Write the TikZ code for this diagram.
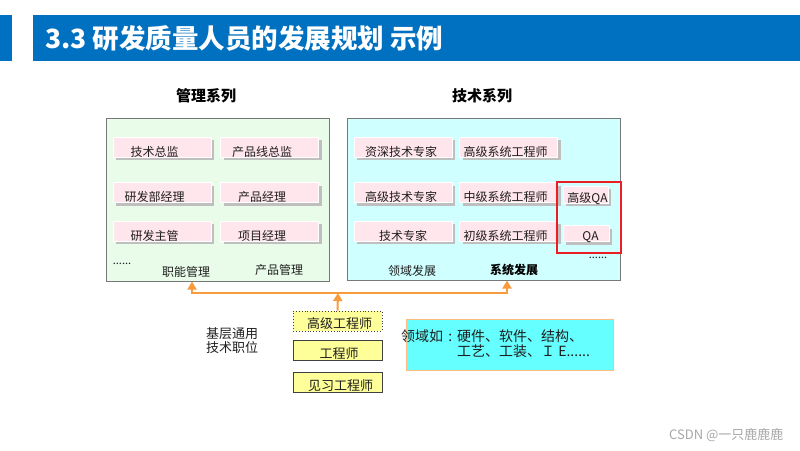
\documentclass[tikz,border=0pt]{standalone}
\usepackage{fontspec}
\setmainfont{Noto Sans CJK SC}
\usepackage{tikz}
\usetikzlibrary{arrows.meta,positioning,calc,shadows}
\newcommand{\fsz}[1]{\fontsize{#1}{#1}\selectfont}
\definecolor{qpblue}{RGB}{0,112,192}
\definecolor{qppink}{RGB}{255,229,236}
\definecolor{qpmint}{RGB}{233,252,233}
\definecolor{qpaqua}{RGB}{208,255,255}
\definecolor{qpcyan}{RGB}{102,255,255}
\definecolor{qpyellow}{RGB}{255,255,153}
\definecolor{qporange}{RGB}{248,155,60}
\definecolor{qpline}{RGB}{120,120,120}
\definecolor{qpred}{RGB}{235,30,35}
\definecolor{qptext}{RGB}{30,30,30}
\tikzset{
  qpPanel/.style={draw=qpline, fill=#1, line width=1pt, inner sep=0pt},
  qpHead/.style={font=\bfseries\fsz{15}, text=black},
  qpRole/.style={fill=qppink, draw=white, line width=0.6pt, inner xsep=0pt,
                 inner ysep=0pt, minimum width=98pt, minimum height=20pt,
                 text height=19pt, text depth=1pt, font=\fsz{12}, text=qptext,
                 drop shadow={shadow xshift=3pt, shadow yshift=-3pt,
                              fill=black!25, opacity=1}},
  qpPad/.style={execute at end node={\hspace*{#1}}},
  qpNote/.style={font=\fsz{12}, text=qptext},
  qpBase/.style={fill=qpyellow, draw=black!75, line width=0.9pt, inner sep=0pt,
                 minimum width=89pt, minimum height=20pt, text height=17.5pt,
                 text depth=2.5pt, font=\fsz{13}, text=qptext},
  qpArrow/.style={-{Triangle[width=9pt,length=8pt]}, line width=2pt,
                  draw=qporange}
}

\begin{document}
\begin{tikzpicture}[x=1pt,y=-1pt]
  \useasboundingbox (0,0) rectangle (800,450);

  % title bar
  \fill[qpblue] (0,15) rectangle (12,61);
  \fill[qpblue] (33,15) rectangle (800,61);
  \node[anchor=west, text=white, font=\bfseries\fsz{26.5}, inner sep=0pt] (title)
        at (45,38) {3.3 研发质量人员的发展规划 示例};

  % two series
  \node[qpHead] (mgmtHead) at (206,96) {管理系列};
  \node[qpHead] (techHead) at (482,96) {技术系列};
  \node[qpPanel=qpmint, minimum width=223pt, minimum height=163pt] (mgmt) at (217.5,199.5) {};
  \node[qpPanel=qpaqua, minimum width=273pt, minimum height=162pt] (tech) at (483.5,199) {};

  \node[qpRole, qpPad=15pt] (cto)   at (162,147)   {技术总监};
  \node[qpRole, qpPad=15pt] (pld)   at (269.5,147) {产品线总监};
  \node[qpRole, qpPad=15pt] (rdm)   at (162,192.5) {研发部经理};
  \node[qpRole, qpPad=15pt] (pm)    at (269.5,192.5) {产品经理};
  \node[qpRole, qpPad=15pt] (rds)   at (162,231)   {研发主管};
  \node[qpRole, qpPad=15pt] (prjm)  at (269.5,231) {项目经理};

  \node[qpRole, qpPad=4pt] (senExp) at (403,147)   {资深技术专家};
  \node[qpRole, qpPad=6pt] (senSys) at (508.5,147) {高级系统工程师};
  \node[qpRole, qpPad=4pt] (hiExp)  at (403,192.5) {高级技术专家};
  \node[qpRole, qpPad=6pt] (midSys) at (508.5,192.5) {中级系统工程师};
  \node[qpRole]            (exp)    at (403,231)   {技术专家};
  \node[qpRole, qpPad=6pt] (jrSys)  at (508.5,231) {初级系统工程师};
  \node[qpRole, minimum width=45pt, minimum height=17pt, text height=16pt] (seniorQa) at (585.5,194.5) {\hspace*{4pt}高级QA};
  \node[qpRole, minimum width=46pt, minimum height=16pt, text height=15pt] (qa) at (586,233.5) {\hspace*{9pt}QA};
  \node[draw=qpred, line width=1.5pt, minimum width=64pt, minimum height=71pt,
        inner sep=0pt] (qaFrame) at (589,217.5) {};

  \node[qpNote, font=\fsz{11}] (mgmtMore) at (122,264) {......};
  \node[qpNote, font=\fsz{11}] (techMore) at (598,258) {......};
  \node[qpNote] (fn)   at (186,272) {职能管理};
  \node[qpNote] (prod) at (279,270) {产品管理};
  \node[qpNote] (dom)  at (412,271) {领域发展};
  \node[qpNote, font=\bfseries\fsz{12}, text=black] (sys) at (514,270) {系统发展};

  % base positions
  \node[qpBase, dotted] (sr) at (337.5,321) {\hspace*{4pt}高级工程师};
  \node[qpBase, below=9pt of sr] (eng) {\hspace*{3pt}工程师};
  \node[qpBase, below=11pt of eng] (jr) {\hspace*{6pt}见习工程师};
  \node[anchor=west, align=left, font=\fontsize{13}{14}\selectfont, text=qptext,
        inner sep=0pt] (baseTxt) at (206,341) {基层通用\\技术职位};

  \coordinate (hub) at (338,293);
  \draw[qpArrow] (sr.north) -- (hub);
  \draw[qpArrow] (hub) -| ($(fn.south |- mgmt.south)+(6,0)$);
  \draw[qpArrow] (hub) -| ($(sys.south |- tech.south)+(-7,0)$);

  \node[fill=qpcyan, draw=qporange!65, line width=1pt, minimum width=207pt,
        minimum height=51pt] (domain) at (509.5,344.5) {};
  \node[anchor=west, align=left, font=\fontsize{14}{15}\selectfont, text=qptext,
        inner sep=0pt] (domainTxt) at (401,344)
        {领域如\makebox[1em]{:}硬件、软件、结构、\\\hspace*{4em}工艺、工装、Ｉ E......};

  \node[anchor=east, font=\fsz{13}, text=black!35] (csdn) at (787,435) {CSDN @一只鹿鹿鹿};
\end{tikzpicture}
\end{document}
